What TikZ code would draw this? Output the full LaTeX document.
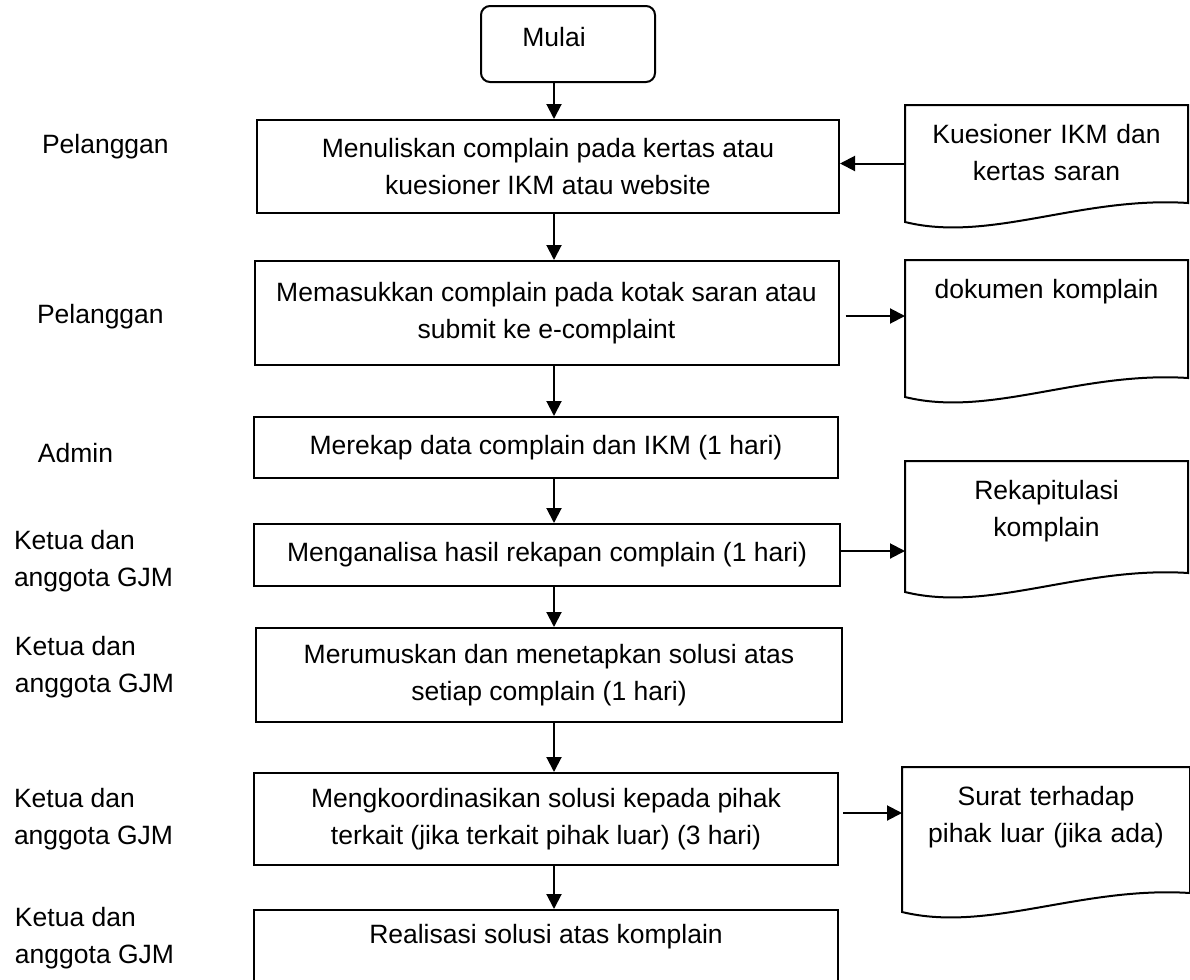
\documentclass[tikz,border=0pt]{standalone}
\usepackage{fontspec}
\setmainfont{Liberation Sans}
\usepackage{tikz}
\usetikzlibrary{calc}
\usetikzlibrary{arrows.meta}
\newcommand*{\docshape}[2]{%
  % #1: node of the sheet
  % #2: height of the sheet
  \draw (#1.north west) -- (#1.north east) -- ($(#1.north east)+(0,#2-19)$)
    .. controls ($(#1.north west)!0.62!(#1.north east)+(0,#2-26)$)
    and ($(#1.north west)!0.3!(#1.north east)+(0,#2+21)$)
    .. ($(#1.north west)+(0,#2)$) -- cycle;
}

\begin{document}
\begin{tikzpicture}[x=0.5pt, y=-0.5pt, line width=1pt,
  >={Triangle[length=7.5pt,width=7.5pt]},
  every node/.style={font=\fontsize{13.25}{18.5}\selectfont},
  proses/.style={draw, align=center, minimum width=292pt},
  dokumen/.style={align=center, text width=140.5pt, inner xsep=0pt, inner ysep=9pt, anchor=north},
  pelaku/.style={align=left, anchor=west, inner xsep=0pt}]
\useasboundingbox (0,0) rectangle (1190,980);
\clip (0,0) rectangle (1190,980);
% alur utama
\node[draw, rounded corners=4.5pt, minimum width=87pt, minimum height=38pt, text depth=7pt] (mulai) at (568,44) {Mulai\hspace*{14pt}};
\node[proses, minimum width=291pt, minimum height=46.5pt] (b1) at (548,166.5) {Menuliskan complain pada kertas atau\\kuesioner IKM atau website};
\node[proses, minimum height=52pt] (b2) at (546.5,313) {Memasukkan complain pada kotak saran atau\\submit ke e-complaint};
\node[proses, minimum height=30.5pt] (b3) at (546,447.5) {Merekap data complain dan IKM (1 hari)};
\node[proses, minimum width=293pt, minimum height=31pt] (b4) at (547,555) {Menganalisa hasil rekapan complain (1 hari)};
\node[proses, minimum width=293pt, minimum height=47pt] (b5) at (549,675) {Merumuskan dan menetapkan solusi atas\\setiap complain (1 hari)};
\node[proses, minimum height=46pt] (b6) at (546,819) {Mengkoordinasikan solusi kepada pihak\\terkait (jika terkait pihak luar) (3 hari)};
\node[proses, minimum height=50pt, text depth=25.8pt] (b7) at (546,960) {Realisasi solusi atas komplain};
% dokumen
\node[dokumen] (d1) at (1046.5,105) {Kuesioner IKM dan\\kertas saran};
\node[dokumen] (d2) at (1046.5,260) {dokumen komplain};
\node[dokumen] (d3) at (1046.5,461) {Rekapitulasi\\komplain};
\node[dokumen, text width=143pt] (d4) at (1046,767) {Surat terhadap\\pihak luar (jika ada)};
\docshape{d1}{117}
\docshape{d2}{137}
\docshape{d3}{131}
\docshape{d4}{145}
% pelaku
\node[pelaku] (p1) at (41,147) {Pelanggan};
\node[pelaku] (p2) at (36,317) {Pelanggan};
\node[pelaku] (p3) at (37,453) {Admin};
\node[pelaku] (p4) at (13,561) {Ketua dan\\anggota GJM};
\node[pelaku] (p5) at (14,667.5) {Ketua dan\\anggota GJM};
\node[pelaku] (p6) at (13,819.5) {Ketua dan\\anggota GJM};
\node[pelaku] (p7) at (14,938.5) {Ketua dan\\anggota GJM};
% panah
\coordinate (col) at (554,0);
\draw[->] (col |- mulai.south) -- (col |- b1.north);
\draw[->] (col |- b1.south) -- (col |- b2.north);
\draw[->] (col |- b2.south) -- (col |- b3.north);
\draw[->] (col |- b3.south) -- (col |- b4.north);
\draw[->] (col |- b4.south) -- (col |- b5.north);
\draw[->] (col |- b5.south) -- (col |- b6.north);
\draw[->] (col |- b6.south) -- (col |- b7.north);
\draw[->] ([yshift=1.5pt]b1.east -| d1.west) -- ([yshift=1.5pt]b1.east);
\draw[->] ([xshift=3pt,yshift=-1.5pt]b2.east) -- ([yshift=-1.5pt]b2.east -| d2.west);
\draw[->] ([yshift=2pt]b4.east) -- ([yshift=2pt]b4.east -| d3.west);
\draw[->] ([xshift=2pt,yshift=3pt]b6.east) -- ([yshift=3pt]b6.east -| d4.west);
\end{tikzpicture}
\end{document}
